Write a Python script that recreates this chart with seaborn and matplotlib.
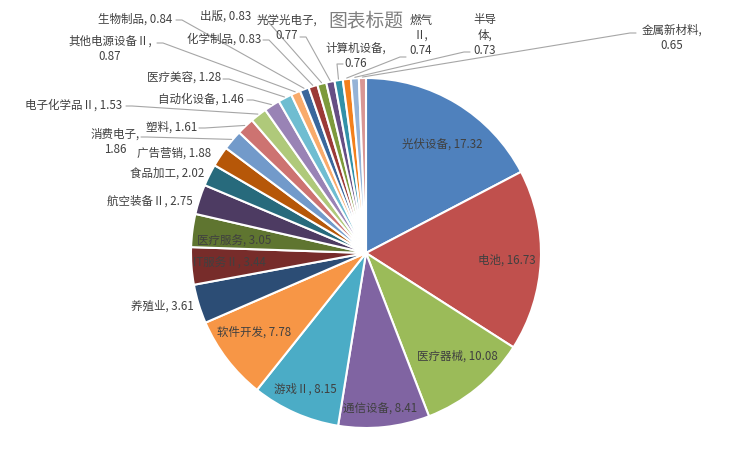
import matplotlib
matplotlib.use("Agg")
import matplotlib.pyplot as plt
import seaborn as sns
import numpy as np

# дані
industries = ["光伏设备", "电池", "医疗器械", "通信设备", "游戏Ⅱ", "软件开发", "养殖业",
              "IT服务Ⅱ", "医疗服务", "航空装备Ⅱ", "食品加工", "广告营销", "消费电子", "塑料",
              "电子化学品Ⅱ", "自动化设备", "医疗美容", "其他电源设备Ⅱ", "生物制品", "化学制品",
              "出版", "光学光电子", "计算机设备", "燃气Ⅱ", "半导体", "金属新材料"]
shares = [17.32, 16.73, 10.08, 8.41, 8.15, 7.78, 3.61, 3.44, 3.05, 2.75, 2.02, 1.88, 1.86,
          1.61, 1.53, 1.46, 1.28, 0.87, 0.84, 0.83, 0.83, 0.77, 0.76, 0.74, 0.73, 0.65]
# how the label text is broken into lines (as in the original chart)
label_texts = ["光伏设备, 17.32", "电池, 16.73", "医疗器械, 10.08", "通信设备, 8.41",
               "游戏Ⅱ, 8.15", "软件开发, 7.78", "养殖业, 3.61", "IT服务Ⅱ, 3.44",
               "医疗服务, 3.05", "航空装备Ⅱ, 2.75", "食品加工, 2.02", "广告营销, 1.88",
               "消费电子,\n1.86", "塑料, 1.61", "电子化学品Ⅱ, 1.53", "自动化设备, 1.46",
               "医疗美容, 1.28", "其他电源设备Ⅱ,\n0.87", "生物制品, 0.84", "化学制品, 0.83",
               "出版, 0.83", "光学光电子,\n0.77", "计算机设备,\n0.76", "燃气\nⅡ,\n0.74",
               "半导\n体,\n0.73", "金属新材料,\n0.65"]

colors = ["#4F81BD", "#C0504D", "#9BBB59", "#8064A2", "#4BACC6", "#F79646",
          "#2C4D75", "#772C2A", "#5F7530", "#4D3B62", "#276A7C", "#B65708",
          "#729ACA", "#CD7371", "#AFC97A", "#9983B5", "#6FBDD1", "#F9AB6B",
          "#3A679C", "#9B3A37", "#7D9A3C", "#664E84", "#3291A8", "#F3801C",
          "#95B3D7", "#D99694"]

# label positions in pixels (x, y from top) and leader start point (or None)
W, H = 730, 455
label_pos = [(442, 144), (507, 260), (457, 356), (380, 409), (305, 389), (254, 332),
             (162, 306), (229, 263), (234, 241), (150, 201), (167, 173), (174, 153),
             (115, 142), (172, 127), (74, 105), (201, 99), (184, 78), (110, 49),
             (135, 19), (224, 39), (226, 16), (287, 28), (356, 56), (421, 35),
             (485, 35), (672, 38)]
leader_from = [None] * 12 + [(141, 137), (199, 128), (126, 106), (247, 100), (223, 79),
                             (157, 43), (176, 20), (263, 40), (258, 17), (300, 37),
                             (343, 64), (406, 57), (470, 52), (636, 33)]
leader_dir = [0] * 12 + [1, 1, 1, 1, 1, 1, 1, 1, 1, 1, -1, -1, -1, -1]

sns.set_theme(style="white")
plt.rcParams["font.family"] = ["Noto Sans CJK SC", "DejaVu Sans"]


def px(x, y):
    return x, H - y


fig = plt.figure(figsize=(W / 100, H / 100), dpi=100)
ax = fig.add_axes([0, 0, 1, 1])
cx, cy = px(366, 253)
radius = 175
wedges, _ = ax.pie(shares, colors=colors, startangle=90, counterclock=False,
                   center=(cx, cy), radius=radius,
                   wedgeprops=dict(edgecolor="white", linewidth=1.5))
ax.set_xlim(0, W)
ax.set_ylim(0, H)
ax.set_aspect("equal")
ax.axis("off")

for i, w in enumerate(wedges):
    x, y = px(*label_pos[i])
    ax.text(x, y, label_texts[i], ha="center", va="center", fontsize=8.3,
            color="#404040", linespacing=1.2)
    if leader_from[i] is not None:
        mid = np.deg2rad((w.theta1 + w.theta2) / 2)
        ex = cx + (radius + 1) * np.cos(mid)
        ey = cy + (radius + 1) * np.sin(mid)
        sx, sy = px(*leader_from[i])
        bx = sx + 6 * leader_dir[i]
        ax.plot([sx, bx, ex], [sy, sy, ey], color="#A6A6A6", linewidth=0.8)

tx, ty = px(366, 21)
ax.text(tx, ty, "图表标题", ha="center", va="center", fontsize=13.5, color="#7F7F7F")

fig.savefig("out.png", dpi=100, facecolor="white")
